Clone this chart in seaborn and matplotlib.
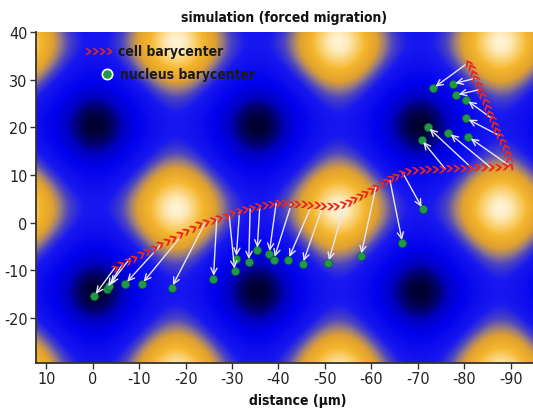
import numpy as np
import matplotlib
matplotlib.use('Agg')
import matplotlib.pyplot as plt
import seaborn as sns
from matplotlib.colors import LinearSegmentedColormap
from matplotlib.markers import MarkerStyle
from matplotlib.path import Path
from matplotlib.transforms import Affine2D

# cell barycenter trajectory (um)
cell_x = [-4.8, -6.2, -7.6, -9.0, -10.4, -11.8, -13.2, -14.6, -16.0, -17.4, -18.8, -20.2,
          -21.6, -23.0, -24.4, -25.8, -27.2, -28.6, -30.0, -31.4, -32.8, -34.2, -35.6, -37.0,
          -38.4, -39.8, -41.2, -42.6, -44.0, -45.4, -46.8, -48.2, -49.6, -51.0, -52.4, -53.8,
          -55.1, -56.3, -57.5, -58.7, -59.9, -61.0, -62.1, -63.2, -64.3, -65.4, -66.5,
          -67.8, -69.3, -70.8, -72.3, -73.8, -75.3, -76.8, -78.3, -79.8, -81.3, -82.8, -84.3,
          -85.8, -87.3, -88.7, -89.8,
          -89.6, -89.2, -88.7, -88.1, -87.5, -86.9, -86.4, -85.9, -85.4, -84.9, -84.4, -83.9,
          -83.4, -82.9, -82.4, -81.9, -81.4, -80.9]
cell_y = [-9.4, -8.7, -8.0, -7.3, -6.6, -5.9, -5.2, -4.5, -3.8, -3.1, -2.4, -1.7,
          -1.0, -0.3, 0.2, 0.6, 1.0, 1.5, 2.0, 2.4, 2.8, 3.2, 3.5, 3.8,
          4.0, 4.1, 4.1, 4.0, 4.0, 3.9, 3.8, 3.7, 3.6, 3.5, 3.6, 3.9,
          4.4, 5.0, 5.6, 6.2, 6.9, 7.5, 8.1, 8.7, 9.3, 9.9, 10.4,
          10.8, 11.0, 11.1, 11.2, 11.3, 11.3, 11.4, 11.4, 11.5, 11.5, 11.6, 11.6,
          11.7, 11.7, 11.8, 12.0,
          13.3, 14.6, 15.9, 17.1, 18.3, 19.5, 20.7, 21.9, 23.1, 24.3, 25.5, 26.7,
          27.9, 29.1, 30.3, 31.5, 32.6, 33.6]

# nucleus barycenter
nuc_x = [-0.3, -3.0, -3.5, -7.0, -10.6, -17.0, -26.0, -30.6, -30.9, -33.6, -35.4, -38.0,
         -39.0, -42.1, -45.2, -50.7, -57.7, -66.7, -71.1, -73.3, -77.5, -78.2, -80.4, -80.4,
         -72.1, -76.6, -80.9, -70.8]
nuc_y = [-15.4, -13.8, -13.2, -12.8, -12.8, -13.6, -11.7, -10.2, -7.5, -8.2, -5.8, -6.5,
         -7.7, -7.7, -8.6, -8.4, -7.0, -4.2, 2.8, 28.2, 29.1, 26.8, 25.8, 21.9,
         20.1, 18.9, 18.0, 17.4]

# cell barycenter position linked to each nucleus point (arrow tails)
tail_x = [-4.8, -6.5, -8.0, -14.5, -19.2, -24.2, -26.7, -29.4, -31.6, -33.9, -36.0, -39.5,
          -42.8, -47.2, -49.6, -54.3, -61.0, -64.0, -66.8, -80.9, -82.4, -83.2, -85.9, -87.5,
          -81.6, -85.6, -89.7, -75.9]
tail_y = [-9.4, -8.6, -7.5, -4.8, -2.6, 0.0, 0.8, 1.5, 2.2, 2.9, 3.6, 4.1,
          4.0, 3.8, 3.6, 4.0, 7.5, 8.9, 10.4, 33.6, 30.3, 27.9, 21.9, 18.3,
          11.5, 11.7, 12.0, 11.3]

x_ticks = [10, 0, -10, -20, -30, -40, -50, -60, -70, -80, -90]
y_ticks = [40, 30, 20, 10, 0, -10, -20]

# background field: cos + cos pattern, bright peaks at (field_x0, field_y0)
field_period = 35.0
field_x0 = -18.0
field_y0 = 3.0

xlim = (12.2, -94.8)
ylim = (-29.4, 40.0)

sns.set_style('white')
plt.rcParams['font.family'] = ['DejaVu Sans']
plt.rcParams['font.stretch'] = 'condensed'
plt.rcParams['axes.unicode_minus'] = False

fig = plt.figure(figsize=(5.33, 4.10), dpi=100)
ax = fig.add_axes([36 / 533, 46 / 410, 497 / 533, 331 / 410])

gx = np.linspace(xlim[0], xlim[1], 500)
gy = np.linspace(ylim[0], ylim[1], 330)
X, Y = np.meshgrid(gx, gy)
Z = np.cos(2 * np.pi * (X - field_x0) / field_period) + np.cos(2 * np.pi * (Y - field_y0) / field_period)

cmap = LinearSegmentedColormap.from_list('field', [
    (0.0, '#000030'),
    (0.05, '#000068'),
    (0.13, '#0000c2'),
    (0.26, '#0000ec'),
    (0.52, '#1818f0'),
    (0.62, '#4c44c2'),
    (0.70, '#9c7e7c'),
    (0.77, '#e0a030'),
    (0.88, '#f4b62c'),
    (0.95, '#fbd47a'),
    (1.0, '#fff2d2'),
])
ax.imshow(Z, extent=[xlim[0], xlim[1], ylim[0], ylim[1]], origin='lower', cmap=cmap,
          vmin=-2, vmax=2, aspect='auto', interpolation='bilinear', zorder=0)
ax.set_xlim(*xlim)
ax.set_ylim(*ylim)

# nucleus points
sns.scatterplot(x=nuc_x, y=nuc_y, ax=ax, color='#1e9a46', edgecolor='#0f5e2a',
                s=34, linewidth=0.5, zorder=3, legend=False)

# arrows from cell barycenter to nucleus barycenter
for tx, ty, nx, ny in zip(tail_x, tail_y, nuc_x, nuc_y):
    ax.annotate('', xy=(nx, ny), xytext=(tx, ty), zorder=4,
                arrowprops=dict(arrowstyle='->,head_length=0.45,head_width=0.22',
                                color='#e6e6f6', lw=1.0, shrinkA=0, shrinkB=2))

# chevron marker pointing along the path
chev = Path([(-0.5, 0.5), (-0.1, 0.5), (0.5, 0.0), (-0.1, -0.5), (-0.5, -0.5), (0.1, 0.0), (-0.5, 0.5)],
            [Path.MOVETO] + [Path.LINETO] * 5 + [Path.CLOSEPOLY])
red = '#e8281e'
pts = ax.transData.transform(np.column_stack([cell_x, cell_y]))
d = np.gradient(pts, axis=0)
ang = np.degrees(np.arctan2(d[:, 1], d[:, 0]))
for x, y, a in zip(cell_x, cell_y, ang):
    ax.scatter(x, y, marker=MarkerStyle(chev, transform=Affine2D().rotate_deg(a)),
               s=28, color=red, linewidths=0, zorder=5)

# legend drawn by hand
tr = ax.transAxes
for lx in [0.1046, 0.1187, 0.1328, 0.1469]:
    ax.scatter(lx, 0.9426, marker=MarkerStyle(chev), s=22, color=red, linewidths=0,
               transform=tr, zorder=6)
ax.scatter(0.1429, 0.873, s=55, color='#1e9a46', edgecolor='white', linewidths=1.2,
           transform=tr, zorder=6)
ax.text(0.165, 0.9426, 'cell barycenter', transform=tr, fontsize=10, fontweight='bold',
        color='#1a1a1a', va='center', ha='left', zorder=6)
ax.text(0.169, 0.873, 'nucleus barycenter', transform=tr, fontsize=10, fontweight='bold',
        color='#1a1a1a', va='center', ha='left', zorder=6)

ax.set_xticks(x_ticks)
ax.set_yticks(y_ticks)
ax.set_xticklabels([str(v) for v in x_ticks])
ax.set_yticklabels([str(v) for v in y_ticks])
ax.tick_params(axis='both', labelsize=11.5, length=4, width=1, color='#333333',
               labelcolor='#222222', pad=2, direction='out', bottom=True, left=True)
for side in ['top', 'right']:
    ax.spines[side].set_visible(False)
for side in ['left', 'bottom']:
    ax.spines[side].set_color('#333333')
    ax.spines[side].set_linewidth(1.3)

ax.set_title('simulation (forced migration)', fontsize=10, fontweight='bold', pad=8, color='#111111')
ax.set_xlabel('distance (µm)', fontsize=10, fontweight='bold', color='#111111', labelpad=1)
ax.xaxis.set_label_coords((298 - 36) / 497, -0.09)

fig.savefig('out.png', dpi=100)
